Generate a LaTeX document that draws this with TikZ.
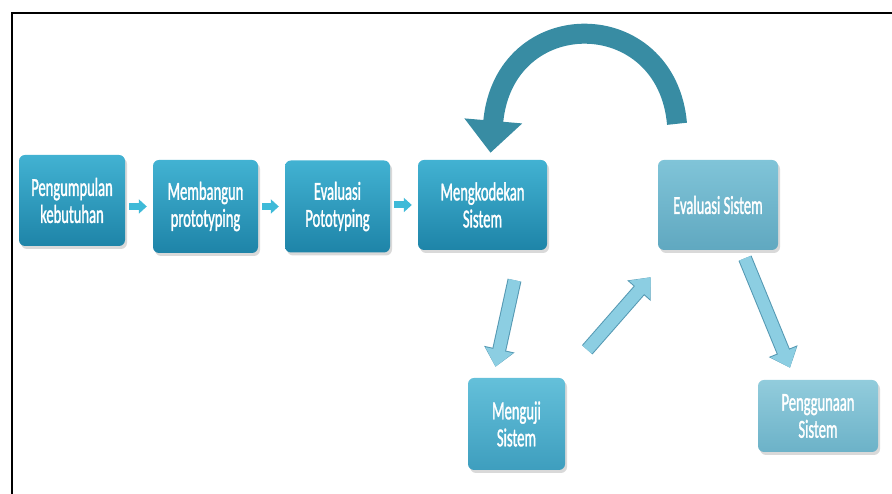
\documentclass[tikz,border=0pt]{standalone}
\usepackage{fontspec}
\usepackage{tikz}
\usetikzlibrary{arrows.meta,shadows}
\newfontfamily\tahapfont[FakeStretch=0.56,FakeBold=1.2]{Carlito}
\definecolor{tealtop}{RGB}{66,178,210}
\definecolor{tealbot}{RGB}{30,132,168}
\definecolor{mutop}{RGB}{100,192,218}
\definecolor{mubot}{RGB}{62,158,190}
\definecolor{evtop}{RGB}{128,196,216}
\definecolor{evbot}{RGB}{96,168,192}
\definecolor{pgtop}{RGB}{146,204,220}
\definecolor{pgbot}{RGB}{108,178,200}
\definecolor{kecil}{RGB}{62,186,216}
\definecolor{panah}{RGB}{140,206,226}
\definecolor{panahtepi}{RGB}{84,152,178}
\definecolor{lengkung}{RGB}{56,140,163}

\begin{document}
\begin{tikzpicture}[x=1pt,y=1pt,
  tahap/.style={rounded corners=6pt, inner sep=0pt, align=center, text=white,
    font={\tahapfont\fontsize{26}{27}\selectfont},
    top color=tealtop, bottom color=tealbot,
    drop shadow={opacity=0.3,shadow xshift=2pt,shadow yshift=-3pt}},
  smallarrow/.style={draw=kecil, line width=7pt, shorten <=4pt, shorten >=6pt,
    -{Triangle[length=8pt,width=14pt]}},
  bigarrow/.style={draw=panah, line width=12pt,
    -{Triangle[length=17pt,width=27pt]},
    preaction={draw=panahtepi, line width=14pt, -{Triangle[length=18pt,width=30pt]}}},
  loopback/.style={draw=lengkung, line width=20pt,
    -{Triangle[length=32pt,width=56pt]}}]
  \useasboundingbox (0,0) rectangle (892,494);
  \draw[line width=2pt] (12,0) -- (12,481) -- (892,481);

  % baris atas
  \node[tahap, minimum width=106pt, minimum height=91pt] (pk) at (72,293.5) {Pengumpulan\\kebutuhan};
  \node[tahap, minimum width=105pt, minimum height=93pt] (mp) at (205.5,287.5) {Membangun\\prototyping};
  \node[tahap, minimum width=105pt, minimum height=92pt] (ep) at (337.5,287.5) {Evaluasi\\Pototyping};
  \node[tahap, minimum width=129pt, minimum height=90pt] (mk) at (482.5,289) {Mengkodekan\\Sistem};
  \node[tahap, minimum width=120pt, minimum height=90pt, top color=evtop, bottom color=evbot] (ev) at (718,289) {Evaluasi Sistem};
  % baris bawah
  \node[tahap, minimum width=97pt, minimum height=92pt, top color=mutop, bottom color=mubot] (mu) at (516.5,70) {Menguji\\Sistem};
  \node[tahap, minimum width=120pt, minimum height=72pt, top color=pgtop, bottom color=pgbot] (pg) at (818,78) {Penggunaan\\Sistem};

  \foreach \a/\b in {pk/mp,mp/ep,ep/mk}{ \draw[smallarrow] (\a.east |- \b.west) -- (\b.west); }

  \draw[bigarrow] ([xshift=32pt,yshift=-30pt]mk.south) -- ([xshift=-21pt,yshift=11pt]mu.north);
  \draw[bigarrow] ([xshift=22pt,yshift=28pt]mu.north east) -- ([xshift=-7pt,yshift=-27pt]ev.south west);
  \draw[bigarrow] ([xshift=27pt,yshift=-8pt]ev.south) -- ([xshift=-28pt,yshift=12pt]pg.north);

  \coordinate (ekor) at ([xshift=-41pt,yshift=36pt]ev.north);
  \draw[loopback] (ekor) to[out=95,in=85,out distance=120pt,in distance=150pt] ([xshift=8pt,yshift=7pt]mk.north);
\end{tikzpicture}
\end{document}
